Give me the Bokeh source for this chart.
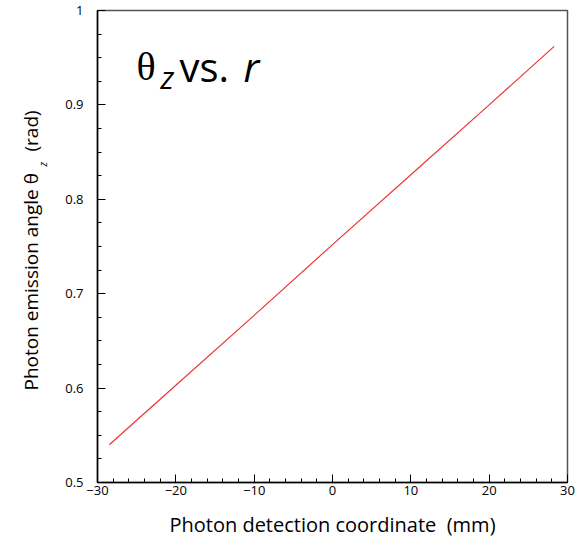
from bokeh.plotting import figure
from bokeh.models import Label, SingleIntervalTicker, CustomJSTickFormatter, Range1d
from bokeh.layouts import row
from bokeh.embed import file_html
from bokeh.resources import INLINE
import math

# data
x_vals = [-28.5, -20, -10, 0, 10, 20, 28.3]
y_vals = [0.540, 0.603, 0.677, 0.752, 0.826, 0.900, 0.962]

x_title = "Photon detection coordinate\u00a0\u00a0(mm)"
y_title_main = "Photon emission angle \u03b8"
y_title_sub = "z"
y_title_unit = "(rad)"

LEFT_W = 60
H = 540
FRAME_BOTTOM = 484  # page y of the frame's bottom edge

p = figure(width=586 - LEFT_W, height=H, output_backend="svg", toolbar_location=None,
           x_range=Range1d(-30, 30), y_range=Range1d(0.5, 1.0),
           min_border_left=97 - LEFT_W, min_border_right=586 - 567, min_border_top=10,
           min_border_bottom=H - FRAME_BOTTOM)
p.background_fill_color = "white"
p.border_fill_color = "white"
p.outline_line_color = "#555555"
p.outline_line_width = 1.5
p.grid.visible = False

p.line(x_vals, y_vals, line_color="#ee3535", line_width=1.2)

p.xaxis.ticker = SingleIntervalTicker(interval=10, num_minor_ticks=5)
p.yaxis.ticker = SingleIntervalTicker(interval=0.1, num_minor_ticks=4)
p.xaxis.formatter = CustomJSTickFormatter(code="""
  const v = Math.round(tick);
  return v < 0 ? "\\u2212" + Math.abs(v) : String(v);
""")
p.yaxis.formatter = CustomJSTickFormatter(code="""
  if (Math.abs(tick - 1) < 1e-9) return "1";
  return tick.toFixed(1);
""")
for ax in (p.xaxis, p.yaxis):
    ax.major_tick_in = 8
    ax.major_tick_out = 0
    ax.minor_tick_in = 4
    ax.minor_tick_out = 0
    ax.axis_line_color = "black"
    ax.axis_line_width = 1.5
    ax.major_tick_line_color = "black"
    ax.minor_tick_line_color = "black"
    ax.major_label_text_font = "Open Sans"
    ax.major_label_text_font_size = "13px"
    ax.major_label_text_color = "black"
p.xaxis.major_label_standoff = 3
p.yaxis.major_label_standoff = 14

p.xaxis.axis_label = x_title
p.xaxis.axis_label_text_font = "Open Sans"
p.xaxis.axis_label_text_font_size = "20px"
p.xaxis.axis_label_text_font_style = "normal"
p.xaxis.axis_label_text_color = "black"
p.xaxis.axis_label_text_line_height = 0.8
p.xaxis.axis_label_standoff = 13

# in-plot title: theta_z vs. r
p.add_layout(Label(x=39, y=416, x_units="screen", y_units="screen", text="\u03b8",
                   text_font="Liberation Serif", text_font_size="40px",
                   text_baseline="alphabetic", text_color="black"))
p.add_layout(Label(x=63, y=406, x_units="screen", y_units="screen", text="z",
                   text_font="Open Sans", text_font_style="italic", text_font_size="31px",
                   text_baseline="alphabetic", text_color="black"))
p.add_layout(Label(x=82, y=416, x_units="screen", y_units="screen", text="vs.",
                   text_font="Open Sans", text_font_size="40px",
                   text_baseline="alphabetic", text_color="black"))
p.add_layout(Label(x=146, y=416, x_units="screen", y_units="screen", text="r",
                   text_font="Open Sans", text_font_style="italic", text_font_size="40px",
                   text_baseline="alphabetic", text_color="black"))

# left strip holding the y title (theta with subscript z); its frame aligns with p's frame
t = figure(width=LEFT_W, height=H, output_backend="svg", toolbar_location=None,
           x_axis_location=None, y_axis_location=None,
           min_border_left=0, min_border_right=0, min_border_top=0, min_border_bottom=0)
t.outline_line_color = None
t.grid.visible = False
t.background_fill_color = "white"
t.border_fill_color = "white"
t.add_layout(Label(x=30, y=FRAME_BOTTOM - 392, x_units="screen", y_units="screen",
                   text=y_title_main, angle=math.pi / 2, text_font="Open Sans",
                   text_font_size="19px", text_align="left", text_baseline="alphabetic",
                   text_color="black"))
t.add_layout(Label(x=42, y=FRAME_BOTTOM - 168, x_units="screen", y_units="screen",
                   text=y_title_sub, angle=math.pi / 2, text_font="Open Sans",
                   text_font_style="italic", text_font_size="10px", text_align="left",
                   text_baseline="alphabetic", text_color="black"))
t.add_layout(Label(x=30, y=FRAME_BOTTOM - 153, x_units="screen", y_units="screen",
                   text=y_title_unit, angle=math.pi / 2, text_font="Open Sans",
                   text_font_size="19px", text_align="left", text_baseline="alphabetic",
                   text_color="black"))

layout = row(t, p)
open("out.html", "w").write(file_html(layout, INLINE))
